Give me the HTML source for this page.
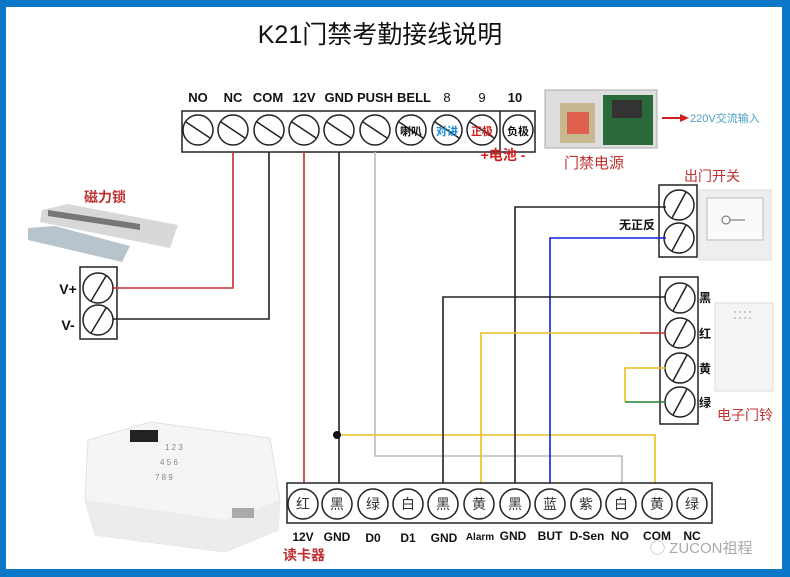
<!DOCTYPE html>
<html><head><meta charset="utf-8"><style>
html,body{margin:0;padding:0;background:#fff}
svg{display:block}
text{font-family:"Liberation Sans","Noto Sans CJK SC",sans-serif}
</style></head><body>
<svg width="790" height="577" viewBox="0 0 790 577" xmlns="http://www.w3.org/2000/svg">
<rect x="0" y="0" width="790" height="577" fill="#0a78c6"/>
<rect x="6" y="7" width="776" height="562" fill="#fff"/>
<text x="380" y="43" font-size="25" text-anchor="middle" fill="#111" font-family="Liberation Sans Narrow,Liberation Sans,Noto Sans CJK SC,sans-serif">K21门禁考勤接线说明</text>

<g font-size="13" font-weight="bold" fill="#111" text-anchor="middle">
<text x="198" y="102">NO</text><text x="233" y="102">NC</text><text x="268" y="102">COM</text>
<text x="304" y="102">12V</text><text x="339" y="102">GND</text><text x="375" y="102">PUSH</text>
<text x="414" y="102">BELL</text><text x="447" y="102" font-weight="normal">8</text>
<text x="482" y="102" font-weight="normal">9</text><text x="515" y="102">10</text>
</g>
<rect x="182" y="111" width="353" height="41" fill="#fff" stroke="#222" stroke-width="1.5"/>
<line x1="500" y1="111" x2="500" y2="152" stroke="#222" stroke-width="1.5"/>
<g stroke="#222" stroke-width="1.5" fill="#fff">
<circle cx="198" cy="130" r="15"/><circle cx="233" cy="130" r="15"/><circle cx="269" cy="130" r="15"/>
<circle cx="304" cy="130" r="15"/><circle cx="339" cy="130" r="15"/><circle cx="375" cy="130" r="15"/>
<circle cx="411" cy="130" r="15"/><circle cx="447" cy="130" r="15"/><circle cx="482" cy="130" r="15"/>
<circle cx="518" cy="130" r="15"/>
</g>
<g stroke="#222" stroke-width="1.5">
<line x1="186" y1="122" x2="210" y2="138"/><line x1="221" y1="122" x2="245" y2="138"/><line x1="257" y1="122" x2="281" y2="138"/>
<line x1="292" y1="122" x2="316" y2="138"/><line x1="327" y1="122" x2="351" y2="138"/><line x1="363" y1="122" x2="387" y2="138"/>
<line x1="399" y1="122" x2="423" y2="138"/><line x1="435" y1="122" x2="459" y2="138"/><line x1="470" y1="122" x2="494" y2="138"/>
</g>
<g font-size="11" font-weight="bold" text-anchor="middle">
<text x="411" y="135" fill="#111">喇叭</text><text x="447" y="135" fill="#1a8ad0">对讲</text>
<text x="482" y="135" fill="#d02020">正极</text><text x="518" y="135" fill="#111">负极</text>
</g>
<text x="503" y="160" font-size="14" font-weight="bold" fill="#d02020" text-anchor="middle">+电池 -</text>

<rect x="545" y="90" width="112" height="58" fill="#ddd" stroke="#aaa"/>
<rect x="560" y="103" width="35" height="40" fill="#c8b890"/>
<rect x="567" y="112" width="22" height="22" fill="#e06050"/>
<rect x="603" y="95" width="50" height="50" fill="#2a6a3a"/>
<rect x="612" y="100" width="30" height="18" fill="#333"/>
<text x="594" y="168" font-size="15" fill="#c03030" text-anchor="middle">门禁电源</text>
<line x1="662" y1="118" x2="682" y2="118" stroke="#d02020" stroke-width="2"/>
<polygon points="680,114 689,118 680,122" fill="#d02020"/>
<text x="690" y="122" font-size="11" fill="#4aa0c0" font-family="Liberation Serif,Noto Serif CJK SC,serif">220V交流输入</text>

<text x="105" y="202" font-size="14" font-weight="bold" fill="#c03030" text-anchor="middle">磁力锁</text>
<polygon points="42,210 68,204 178,225 170,248 40,222" fill="#d8d8d8"/>
<polygon points="48,210 140,224 140,230 48,216" fill="#777"/>
<polygon points="28,228 55,226 130,246 122,262 28,240" fill="#b8c4cc"/>
<rect x="80" y="267" width="37" height="72" fill="#fff" stroke="#222" stroke-width="1.5"/>
<g stroke="#222" stroke-width="1.5" fill="none">
<circle cx="98" cy="288" r="15"/><circle cx="98" cy="320" r="15"/>
<line x1="91" y1="301" x2="106" y2="276"/><line x1="91" y1="333" x2="106" y2="308"/>
</g>
<text x="68" y="294" font-size="14" font-weight="bold" fill="#111" text-anchor="middle">V+</text>
<text x="68" y="330" font-size="14" font-weight="bold" fill="#111" text-anchor="middle">V-</text>

<text x="712" y="181" font-size="14" fill="#c03030" text-anchor="middle">出门开关</text>
<rect x="699" y="190" width="72" height="70" fill="#eee" stroke="#ddd"/>
<rect x="707" y="198" width="56" height="42" fill="#fafafa" stroke="#bbb"/>
<circle cx="726" cy="220" r="4" fill="none" stroke="#666"/><line x1="730" y1="220" x2="745" y2="220" stroke="#666"/>
<rect x="659" y="185" width="38" height="72" fill="#fff" stroke="#222" stroke-width="1.5"/>
<rect x="660" y="277" width="38" height="147" fill="#fff" stroke="#222" stroke-width="1.5"/>
<g stroke="#222" stroke-width="1.5" fill="none">
<circle cx="679" cy="205" r="15"/><circle cx="679" cy="238" r="15"/>
<line x1="672" y1="218" x2="686" y2="192"/><line x1="672" y1="251" x2="686" y2="225"/>
<circle cx="680" cy="298" r="15"/><circle cx="680" cy="333" r="15"/><circle cx="680" cy="368" r="15"/><circle cx="680" cy="402" r="15"/>
<line x1="673" y1="311" x2="687" y2="285"/><line x1="673" y1="346" x2="687" y2="320"/>
<line x1="673" y1="381" x2="687" y2="355"/><line x1="673" y1="415" x2="687" y2="389"/>
</g>
<text x="637" y="229" font-size="12" font-weight="bold" fill="#111" text-anchor="middle">无正反</text>
<g font-size="12" font-weight="bold" fill="#111">
<text x="699" y="302">黑</text><text x="699" y="338">红</text><text x="699" y="373">黄</text><text x="699" y="407">绿</text>
</g>
<rect x="715" y="303" width="58" height="88" fill="#f4f4f4" stroke="#ddd"/>
<g fill="#bbb"><circle cx="735" cy="312" r="1"/><circle cx="740" cy="312" r="1"/><circle cx="745" cy="312" r="1"/><circle cx="750" cy="312" r="1"/><circle cx="735" cy="318" r="1"/><circle cx="740" cy="318" r="1"/><circle cx="745" cy="318" r="1"/><circle cx="750" cy="318" r="1"/></g>
<text x="745" y="420" font-size="14" fill="#c03030" text-anchor="middle">电子门铃</text>

<g fill="none" stroke-width="1.6">
<polyline points="233,152 233,288 113,288" stroke="#c03030"/>
<polyline points="269,152 269,319 113,319" stroke="#222"/>
<polyline points="304,152 304,485" stroke="#c03030"/>
<polyline points="339,152 339,485" stroke="#222"/>
<polyline points="375,152 375,456 622,456 622,485" stroke="#bbb"/>
<polyline points="337,435 655,435 655,485" stroke="#e8c020"/>
<polyline points="515,485 515,207 666,207" stroke="#222"/>
<polyline points="550,485 550,238 666,238" stroke="#1020e0"/>
<polyline points="443,485 443,297 666,297" stroke="#222"/>
<polyline points="481,485 481,333 640,333" stroke="#e8c020"/>
<polyline points="640,333 666,333" stroke="#c03030"/>
<polyline points="666,368 625,368 625,402" stroke="#e8c020"/>
<polyline points="625,402 666,402" stroke="#208030"/>
</g>
<circle cx="337" cy="435" r="4" fill="#111"/>

<path d="M88,440 L150,422 L270,438 L280,500 L278,530 L225,552 L95,535 L85,500 Z" fill="#f5f5f5" stroke="#e2e2e2"/>
<path d="M85,500 L225,520 L280,500 L278,530 L225,552 L95,535 Z" fill="#ececec"/>
<rect x="130" y="430" width="28" height="12" fill="#222"/>
<g font-size="8" fill="#888"><text x="165" y="450">1 2 3</text><text x="160" y="465">4 5 6</text><text x="155" y="480">7 8 9</text></g>
<rect x="232" y="508" width="22" height="10" fill="#aaa"/>

<rect x="287" y="483" width="425" height="40" fill="#fff" stroke="#222" stroke-width="1.5"/>
<g stroke="#222" stroke-width="1.5" fill="#fff">
<circle cx="303" cy="504" r="15"/><circle cx="337" cy="504" r="15"/><circle cx="373" cy="504" r="15"/>
<circle cx="408" cy="504" r="15"/><circle cx="443" cy="504" r="15"/><circle cx="479" cy="504" r="15"/>
<circle cx="515" cy="504" r="15"/><circle cx="550" cy="504" r="15"/><circle cx="586" cy="504" r="15"/>
<circle cx="621" cy="504" r="15"/><circle cx="657" cy="504" r="15"/><circle cx="692" cy="504" r="15"/>
</g>
<g font-size="14" fill="#333" text-anchor="middle">
<text x="303" y="509">红</text><text x="337" y="509">黑</text><text x="373" y="509">绿</text>
<text x="408" y="509">白</text><text x="443" y="509">黑</text><text x="479" y="509">黄</text>
<text x="515" y="509">黑</text><text x="550" y="509">蓝</text><text x="586" y="509">紫</text>
<text x="621" y="509">白</text><text x="657" y="509">黄</text><text x="692" y="509">绿</text>
</g>
<g font-size="12" font-weight="bold" fill="#111" text-anchor="middle">
<text x="303" y="541">12V</text><text x="337" y="541">GND</text><text x="373" y="542">D0</text>
<text x="408" y="542">D1</text><text x="444" y="542">GND</text><text x="480" y="540" font-size="10">Alarm</text>
<text x="513" y="540">GND</text><text x="550" y="540">BUT</text><text x="587" y="540">D-Sen</text>
<text x="620" y="540">NO</text><text x="657" y="540">COM</text><text x="692" y="540">NC</text>
</g>
<text x="283" y="560" font-size="14" font-weight="bold" fill="#c03030">读卡器</text>
<text x="650" y="553" font-size="15" fill="#aaa">◯ ZUCON祖程</text>
</svg>
</body></html>
